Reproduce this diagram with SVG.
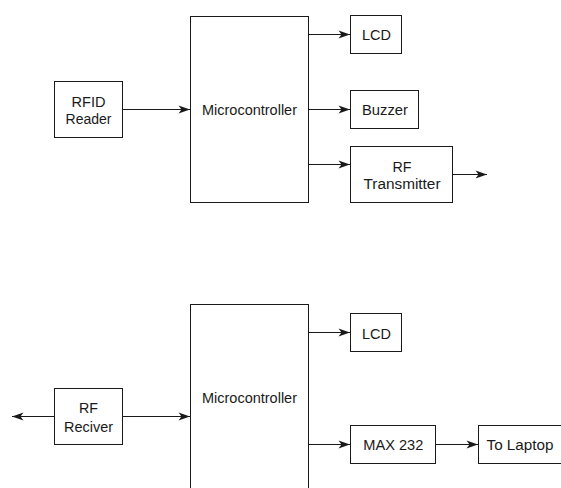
<svg xmlns="http://www.w3.org/2000/svg" width="561" height="488" viewBox="0 0 561 488">
  <style>
    .box { fill: #ffffff; stroke: #1a1a1a; stroke-width: 1; }
    .lbl { font-family: "Liberation Sans", Arial, sans-serif; font-size: 15.5px; fill: #1a1a1a; text-anchor: middle; }
    .wire { fill: none; stroke: #1a1a1a; stroke-width: 1; }
  </style>
  <defs>
    <marker id="arrow" viewBox="-12 -5 13 10" refX="0" refY="0" markerWidth="13" markerHeight="10" markerUnits="userSpaceOnUse" orient="auto">
      <path d="M0,0 L-11.5,-4 L-8.5,0 L-11.5,4 Z" fill="#1a1a1a"/>
    </marker>
  </defs>
  <rect width="561" height="488" fill="#ffffff"/>

  <!-- Transmitter side -->
  <g id="rfid-reader">
    <rect class="box" x="54.5" y="81.5" width="68" height="56"/>
    <text class="lbl" x="88.5" y="107" textLength="34" lengthAdjust="spacingAndGlyphs">RFID</text>
    <text class="lbl" x="88.5" y="124" textLength="46" lengthAdjust="spacingAndGlyphs">Reader</text>
  </g>
  <g id="mcu-tx">
    <rect class="box" x="190.5" y="16.5" width="118" height="186"/>
    <text class="lbl" x="249.5" y="115" textLength="95" lengthAdjust="spacingAndGlyphs">Microcontroller</text>
  </g>
  <g id="lcd-tx">
    <rect class="box" x="350.5" y="15.5" width="51" height="38"/>
    <text class="lbl" x="376.5" y="40" textLength="29" lengthAdjust="spacingAndGlyphs">LCD</text>
  </g>
  <g id="buzzer">
    <rect class="box" x="350.5" y="90.5" width="68" height="38"/>
    <text class="lbl" x="385" y="115" textLength="46" lengthAdjust="spacingAndGlyphs">Buzzer</text>
  </g>
  <g id="rf-transmitter">
    <rect class="box" x="350.5" y="146.5" width="102" height="56"/>
    <text class="lbl" x="402" y="171.7" textLength="19" lengthAdjust="spacingAndGlyphs">RF</text>
    <text class="lbl" x="402" y="189.3" textLength="77" lengthAdjust="spacingAndGlyphs">Transmitter</text>
  </g>

  <!-- Receiver side -->
  <g id="rf-receiver">
    <rect class="box" x="54.5" y="388.5" width="68" height="56"/>
    <text class="lbl" x="88.5" y="413" textLength="19" lengthAdjust="spacingAndGlyphs">RF</text>
    <text class="lbl" x="88.5" y="431.5" textLength="49" lengthAdjust="spacingAndGlyphs">Reciver</text>
  </g>
  <g id="mcu-rx">
    <rect class="box" x="190.5" y="304.5" width="118" height="200"/>
    <text class="lbl" x="249.5" y="402.7" textLength="95" lengthAdjust="spacingAndGlyphs">Microcontroller</text>
  </g>
  <g id="lcd-rx">
    <rect class="box" x="350.5" y="313.5" width="51" height="38"/>
    <text class="lbl" x="376.5" y="339" textLength="29" lengthAdjust="spacingAndGlyphs">LCD</text>
  </g>
  <g id="max232">
    <rect class="box" x="350.5" y="425.5" width="85" height="38"/>
    <text class="lbl" x="393.3" y="450" textLength="60" lengthAdjust="spacingAndGlyphs">MAX 232</text>
  </g>
  <g id="to-laptop">
    <rect class="box" x="478.5" y="425.5" width="100" height="38"/>
    <text class="lbl" x="520" y="450" textLength="67" lengthAdjust="spacingAndGlyphs">To Laptop</text>
  </g>

  <g id="connectors">
    <path class="wire" d="M122.5,109.5 H190" marker-end="url(#arrow)"/>
    <path class="wire" d="M308.5,34.5 H350" marker-end="url(#arrow)"/>
    <path class="wire" d="M308.5,109.5 H350" marker-end="url(#arrow)"/>
    <path class="wire" d="M308.5,164.5 H350" marker-end="url(#arrow)"/>
    <path class="wire" d="M452.5,174.5 H487" marker-end="url(#arrow)"/>
    <path class="wire" d="M54.5,416.5 H12" marker-end="url(#arrow)"/>
    <path class="wire" d="M122.5,416.5 H190" marker-end="url(#arrow)"/>
    <path class="wire" d="M308.5,332.5 H350" marker-end="url(#arrow)"/>
    <path class="wire" d="M308.5,444.5 H350" marker-end="url(#arrow)"/>
    <path class="wire" d="M435.5,444.5 H478" marker-end="url(#arrow)"/>
  </g>
</svg>
